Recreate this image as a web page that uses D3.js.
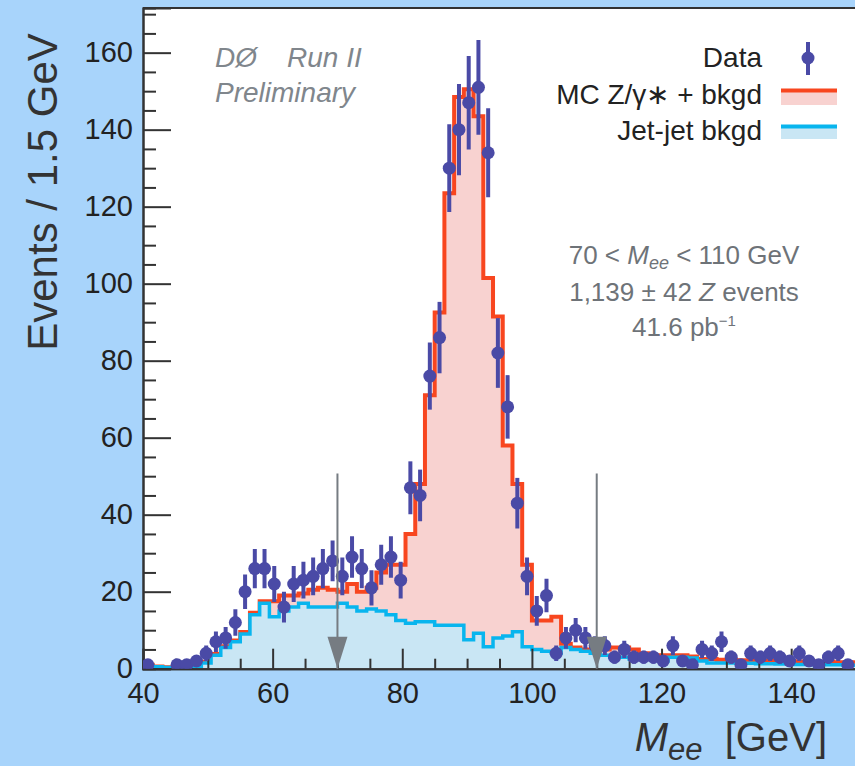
<!DOCTYPE html>
<html>
<head>
<meta charset="UTF-8" />
<title>Z to ee invariant mass</title>
<script src="https://d3js.org/d3.v7.min.js"></script>
<style>
  body { margin: 0; background: #a8d4fb; }
  text { font-family: "Liberation Sans", Arial, Helvetica, sans-serif; }
</style>
</head>
<body>
<svg id="chart" width="855" height="766"></svg>
<script>
// binning of the histograms (GeV)
var binStart = 40, binWidth = 1.5;

// MC Z/gamma* + bkgd (stacked total), events per 1.5 GeV bin
var mcTotal = [
  1.0, 0.6, 0.4, 0.4, 0.5, 0.8, 1.8, 3.8, 5.8, 7.3,
  9.5, 14.5, 17.5, 17.5, 19, 19, 19.5, 20.5, 21, 20.5,
  20, 22, 20, 21, 25, 27, 27, 35, 48, 71,
  92.5, 123.5, 148.5, 150.5, 143.5, 101.5, 91.5, 58, 48, 27,
  12.5, 12.5, 13.5, 6.5, 5.5, 5, 5, 5, 5.5, 5.5,
  5, 4, 3.5, 3.5, 3.5, 3.5, 3.2, 2.5, 2.5, 2.3,
  2.3, 2.2, 2.2, 2.1, 2.1, 2, 2, 1.9, 1.9, 1.8,
  1.8, 1.7, 1.7, 1.6
];

// Jet-jet background, events per bin
var jetJet = [
  0.8, 0.5, 0.3, 0.3, 0.4, 0.6, 1.5, 3.5, 5.5, 7,
  9, 14, 17, 13.5, 15, 16, 17, 16, 16, 16,
  17, 16, 15, 15.5, 15, 14, 12.5, 11.8, 12.2, 12.2,
  11.3, 11.3, 11.3, 7.5, 9.2, 5.7, 8, 8.5, 9.6, 5.7,
  5, 4.5, 4, 5.5, 5, 4.5, 4, 3.5, 3, 3,
  2.5, 2.5, 2.5, 2, 3, 3, 2.8, 2, 1.5, 1.5,
  1.5, 1.4, 1.4, 1.3, 1.3, 1.2, 1.2, 1.1, 1.1, 1,
  1, 1, 0.9, 0.9
];

// Data counts per bin (null = empty bin, not drawn)
var dataCounts = [
  1, null, null, 1, 1, 2, 4, 7, 8, 12,
  20, 26, 26, 22, 16, 22, 23, 24, 26, 28,
  24, 29, 26, 21, 27, 29, 23, 47, 45, 76,
  86, 130, 140, 147, 151, 134, 82, 68, 43, 24,
  15, 19, 4, 8, 10, 8, 6, 6, 3, 5,
  3, 3, 3, 2, 6, 2, 1, 5, 4, 7,
  3, 1, 4, 3, 4, 3, 2, 4, 2, 1,
  3, 4, 1, null
];

var xTicks = [40, 60, 80, 100, 120, 140];
var yTicks = [0, 20, 40, 60, 80, 100, 120, 140, 160];
var cutValues = [70, 110];

var svg = d3.select('#chart');

var x = d3.scaleLinear().domain([40, 150]).range([143, 856]);
var y = d3.scaleLinear().domain([0, 171.6]).range([668.7, 8]);

var dataColor = '#4a4aa6';
var redLine = '#f8461f', redFill = '#f8d2d0';
var cyanLine = '#08b5ee', cyanFill = '#c9e6f4';
var axisColor = '#333';

// plot frame
svg.append('rect')
  .attr('x', x(40)).attr('y', y(171.6))
  .attr('width', x(150) - x(40)).attr('height', y(0) - y(171.6))
  .attr('fill', 'white');

svg.append('clipPath').attr('id', 'plotclip')
  .append('rect')
  .attr('x', x(40)).attr('y', y(171.6))
  .attr('width', x(150) - x(40)).attr('height', y(0) - y(171.6));

var plot = svg.append('g').attr('clip-path', 'url(#plotclip)');

function binsOf(arr) {
  var pts = arr.map(function (v, i) { return { x: binStart + i * binWidth, v: v }; });
  pts.push({ x: binStart + arr.length * binWidth, v: arr[arr.length - 1] });
  return pts;
}

var area = d3.area()
  .x(function (d) { return x(d.x); })
  .y0(y(0))
  .y1(function (d) { return y(d.v); })
  .curve(d3.curveStepAfter);

var line = d3.line()
  .x(function (d) { return x(d.x); })
  .y(function (d) { return y(d.v); })
  .curve(d3.curveStepAfter);

var mcBins = binsOf(mcTotal);
var jjBins = binsOf(jetJet);

plot.append('path').attr('d', area(mcBins)).attr('fill', redFill);
plot.append('path').attr('d', line(mcBins)).attr('fill', 'none')
  .attr('stroke', redLine).attr('stroke-width', 4);
plot.append('path').attr('d', area(jjBins)).attr('fill', cyanFill);
plot.append('path').attr('d', line(jjBins)).attr('fill', 'none')
  .attr('stroke', cyanLine).attr('stroke-width', 3.5);

// axes (ticks point inwards)
var minorY = d3.range(0, 171, 5).filter(function (v) { return v % 20 !== 0; });
var minorX = d3.range(45, 150, 5).filter(function (v) { return v % 20 !== 0; });

function styleAxis(g) {
  g.select('.domain').attr('stroke', axisColor).attr('stroke-width', 2);
  g.selectAll('.tick line').attr('stroke', axisColor).attr('stroke-width', 2);
  g.selectAll('.tick text').attr('fill', '#222').style('font-size', '29px');
}

svg.append('g').attr('transform', 'translate(' + x(40) + ',0)')
  .call(d3.axisLeft(y).tickValues(minorY).tickSize(-13).tickFormat(''))
  .call(styleAxis);
svg.append('g').attr('transform', 'translate(' + x(40) + ',0)')
  .call(d3.axisLeft(y).tickValues(yTicks).tickSize(-28).tickPadding(10).tickFormat(d3.format('d')))
  .call(styleAxis);

svg.append('g').attr('transform', 'translate(0,' + y(0) + ')')
  .call(d3.axisBottom(x).tickValues(minorX).tickSize(-10).tickFormat(''))
  .call(styleAxis);
svg.append('g').attr('transform', 'translate(0,' + y(0) + ')')
  .call(d3.axisBottom(x).tickValues(xTicks).tickSize(-20).tickPadding(14).tickFormat(d3.format('d')))
  .call(styleAxis);

// top border
svg.append('line')
  .attr('x1', x(40)).attr('x2', x(150))
  .attr('y1', y(171.6)).attr('y2', y(171.6))
  .attr('stroke', axisColor).attr('stroke-width', 2);

// data points with sqrt(N) errors
var pts = [];
dataCounts.forEach(function (v, i) {
  if (v !== null) pts.push({ x: binStart + (i + 0.5) * binWidth, v: v });
});

var dg = svg.append('g').attr('clip-path', 'url(#plotclip)');
dg.selectAll('line.err').data(pts).enter().append('line')
  .attr('class', 'err')
  .attr('x1', function (d) { return x(d.x); })
  .attr('x2', function (d) { return x(d.x); })
  .attr('y1', function (d) { return y(Math.max(0, d.v - Math.sqrt(d.v))); })
  .attr('y2', function (d) { return y(d.v + Math.sqrt(d.v)); })
  .attr('stroke', dataColor).attr('stroke-width', 4);
dg.selectAll('circle').data(pts).enter().append('circle')
  .attr('cx', function (d) { return x(d.x); })
  .attr('cy', function (d) { return y(d.v); })
  .attr('r', 6.5)
  .attr('fill', dataColor);

// mass window arrows
var arrowColor = '#767c82';
cutValues.forEach(function (c) {
  svg.append('line')
    .attr('x1', x(c)).attr('x2', x(c))
    .attr('y1', y(50.7)).attr('y2', y(0))
    .attr('stroke', arrowColor).attr('stroke-width', 2);
  svg.append('path')
    .attr('d', 'M' + (x(c) - 10) + ',' + y(8.3) + 'L' + (x(c) + 10) + ',' + y(8.3) + 'L' + x(c) + ',' + y(0) + 'Z')
    .attr('fill', arrowColor);
});

// axis titles
svg.append('text')
  .attr('transform', 'translate(57,192) rotate(-90)')
  .attr('text-anchor', 'middle')
  .attr('fill', '#333')
  .style('font-size', '42px')
  .text('Events / 1.5 GeV');

var xt = svg.append('text')
  .attr('x', 827).attr('y', 751)
  .attr('text-anchor', 'end')
  .attr('fill', '#333')
  .style('font-size', '40px');
xt.append('tspan').style('font-style', 'italic').text('M');
xt.append('tspan').style('font-style', 'italic').style('font-size', '31px').attr('dy', 9).text('ee');
xt.append('tspan').attr('dy', -9).text('\u00a0\u00a0[GeV]');

// DØ label
var grayText = '#80868c';
svg.append('text').attr('x', 215).attr('y', 67)
  .attr('fill', grayText).style('font-size', '28px').style('font-style', 'italic').text('DØ');
svg.append('text').attr('x', 287).attr('y', 67)
  .attr('fill', grayText).style('font-size', '28px').style('font-style', 'italic').text('Run II');
svg.append('text').attr('x', 215).attr('y', 102)
  .attr('fill', grayText).style('font-size', '28px').style('font-style', 'italic').text('Preliminary');

// legend
var legendRows = [
  { label: 'Data', y: 67 },
  { label: 'MC Z/\u03b3\u2217 + bkgd', y: 103.5 },
  { label: 'Jet-jet bkgd', y: 140 }
];
svg.selectAll('text.leg').data(legendRows).enter().append('text')
  .attr('class', 'leg')
  .attr('x', 762).attr('y', function (d) { return d.y; })
  .attr('text-anchor', 'end')
  .attr('fill', '#222')
  .style('font-size', '28px')
  .text(function (d) { return d.label; });

svg.append('line').attr('x1', 808).attr('x2', 808).attr('y1', 42).attr('y2', 75)
  .attr('stroke', dataColor).attr('stroke-width', 4);
svg.append('circle').attr('cx', 808).attr('cy', 58).attr('r', 6.5).attr('fill', dataColor);

svg.append('rect').attr('x', 781).attr('y', 91).attr('width', 56).attr('height', 14).attr('fill', redFill);
svg.append('line').attr('x1', 781).attr('x2', 837).attr('y1', 90.5).attr('y2', 90.5)
  .attr('stroke', redLine).attr('stroke-width', 4);
svg.append('rect').attr('x', 781).attr('y', 127).attr('width', 56).attr('height', 12).attr('fill', cyanFill);
svg.append('line').attr('x1', 781).attr('x2', 837).attr('y1', 126.5).attr('y2', 126.5)
  .attr('stroke', cyanLine).attr('stroke-width', 4);

// selection annotation
var annColor = '#6e7378';
var a1 = svg.append('text').attr('x', 684).attr('y', 264).attr('text-anchor', 'middle')
  .attr('fill', annColor).style('font-size', '26px');
a1.append('tspan').text('70 < ');
a1.append('tspan').style('font-style', 'italic').text('M');
a1.append('tspan').style('font-style', 'italic').style('font-size', '18px').attr('dy', 5).text('ee');
a1.append('tspan').attr('dy', -5).text(' < 110 GeV');

var a2 = svg.append('text').attr('x', 684).attr('y', 301).attr('text-anchor', 'middle')
  .attr('fill', annColor).style('font-size', '26px');
a2.append('tspan').text('1,139 \u00b1 42 ');
a2.append('tspan').style('font-style', 'italic').text('Z');
a2.append('tspan').text(' events');

var a3 = svg.append('text').attr('x', 684).attr('y', 336).attr('text-anchor', 'middle')
  .attr('fill', annColor).style('font-size', '26px');
a3.append('tspan').text('41.6 pb');
a3.append('tspan').style('font-size', '15px').attr('dy', -10).text('\u22121');
</script>
</body>
</html>
